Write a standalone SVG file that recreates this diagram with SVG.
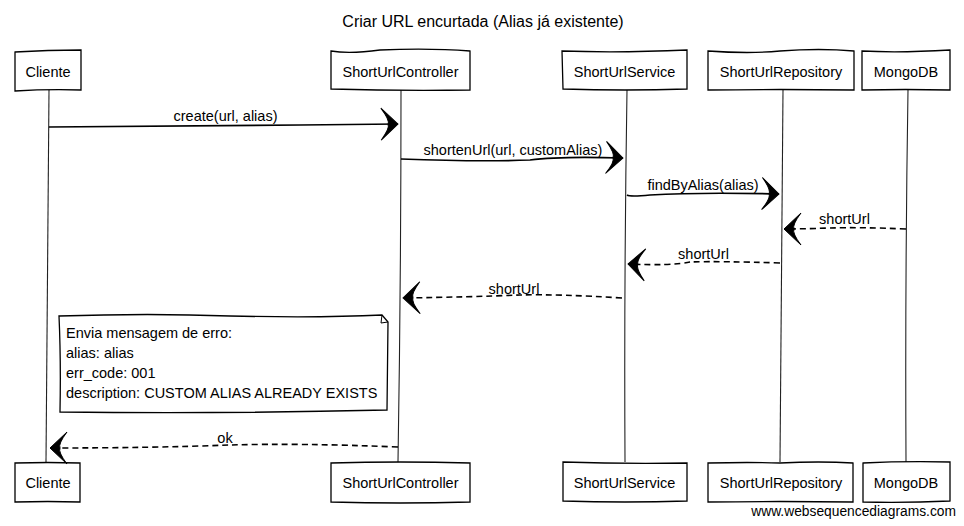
<svg xmlns="http://www.w3.org/2000/svg" width="964" height="526" viewBox="0 0 964 526">
<style>
  text { font-family: "Liberation Sans", Arial, sans-serif; fill: #000; }
  .title { font-size: 16px; text-anchor: middle; }
  .pt { font-size: 14.5px; text-anchor: middle; }
  .lbl { font-size: 14.5px; text-anchor: middle; }
  .note { font-size: 14.5px; }
  .wm { font-size: 13.8px; text-anchor: end; }
  .box { fill: #fff; stroke: #000; stroke-width: 1.3; }
  .life { fill: none; stroke: #222; stroke-width: 1.1; }
  .msg { fill: none; stroke: #000; stroke-width: 1.6; marker-end: url(#ah); }
  .ret { fill: none; stroke: #000; stroke-width: 1.6; stroke-dasharray: 6 4; marker-end: url(#ah); }
</style>
<defs>
  <marker id="ah" markerUnits="userSpaceOnUse" orient="auto" viewBox="-19 -18 21 36" refX="0" refY="0" markerWidth="21" markerHeight="36">
    <path d="M0,0 L-17,-16 Q-8,-4 -10,0 Q-8,4 -17,16 Z" fill="#000" stroke="#000" stroke-width="1"/>
  </marker>
</defs>
<rect width="964" height="526" fill="#fff"/>
<text class="title" x="483" y="27">Criar URL encurtada (Alias já existente)</text>

<g id="lifelines">
  <path class="life" d="M49,90 Q48,280 46,462"/>
  <path class="life" d="M401,90 Q401,280 398,462"/>
  <path class="life" d="M627,90 Q624,280 625,462"/>
  <path class="life" d="M783,90 Q782,280 780,462"/>
  <path class="life" d="M908,90 Q905,280 906,462"/>
</g>

<g id="p-cliente">
  <path class="box" d="M15,52 Q48,50 81,50 L81,90 Q48,89 15,91 Z"/>
  <text class="pt" x="48" y="77">Cliente</text>
</g>
<g id="p-controller">
  <path class="box" d="M331,51 Q350,54 380,50 Q430,48 470,51 L470,90 Q400,91 331,89 Z"/>
  <text class="pt" x="400.5" y="77">ShortUrlController</text>
</g>
<g id="p-service">
  <path class="box" d="M562,51 Q620,53 687,50 L687,89 Q625,91 563,89 Z"/>
  <text class="pt" x="624.5" y="77">ShortUrlService</text>
</g>
<g id="p-repository">
  <path class="box" d="M708,51 Q750,54 780,51 Q820,48 854,51 L854,90 Q780,89 708,90 Z"/>
  <text class="pt" x="781" y="77">ShortUrlRepository</text>
</g>
<g id="p-mongodb">
  <path class="box" d="M862,51 Q900,53 950,50 L950,90 Q905,89 862,90 Z"/>
  <text class="pt" x="906" y="77">MongoDB</text>
</g>

<g id="p-cliente-bottom">
  <path class="box" d="M15,463 Q48,462 80,463 L80,502 Q48,501 15,502 Z"/>
  <text class="pt" x="48" y="488">Cliente</text>
</g>
<g id="p-controller-bottom">
  <path class="box" d="M331,463 Q400,461 470,463 L470,502 Q400,504 331,502 Z"/>
  <text class="pt" x="400.5" y="488">ShortUrlController</text>
</g>
<g id="p-service-bottom">
  <path class="box" d="M563,462 Q625,464 687,463 L687,501 Q625,503 563,501 Z"/>
  <text class="pt" x="624.5" y="488">ShortUrlService</text>
</g>
<g id="p-repository-bottom">
  <path class="box" d="M708,463 Q750,462 780,463 Q820,461 853,463 L853,502 Q780,501 708,502 Z"/>
  <text class="pt" x="781" y="488">ShortUrlRepository</text>
</g>
<g id="p-mongodb-bottom">
  <path class="box" d="M863,463 Q905,461 950,462 L950,501 Q905,503 863,502 Z"/>
  <text class="pt" x="906" y="488">MongoDB</text>
</g>

<g id="note">
  <path class="box" d="M59,316 Q150,313 230,316 Q320,318 382,315 L388,322 L387,410 Q220,414 60,412 Q61,360 59,316 Z"/>
  <path d="M382,315 L381,323 L388,322" fill="none" stroke="#000" stroke-width="1"/>
  <text class="note" x="66" y="338">Envia mensagem de erro:</text>
  <text class="note" x="66" y="358">alias: alias</text>
  <text class="note" x="66" y="378">err_code: 001</text>
  <text class="note" x="66" y="398">description: CUSTOM ALIAS ALREADY EXISTS</text>
</g>

<g id="connectors">
  <path class="msg" d="M49,127 Q220,126 300,125 L398,124"/>
  <text class="lbl" x="225.5" y="121">create(url, alias)</text>

  <path class="msg" d="M401,159 Q480,162 530,160 Q560,156 623,158"/>
  <text class="lbl" x="513" y="155">shortenUrl(url, customAlias)</text>

  <path class="msg" d="M627,195 Q630,197 650,195 Q700,192 779,194"/>
  <text class="lbl" x="703" y="190">findByAlias(alias)</text>

  <path class="ret" d="M906,229 Q860,227 830,228 Q800,229 784,229"/>
  <text class="lbl" x="844.5" y="224">shortUrl</text>

  <path class="ret" d="M780,263 Q720,261 690,262 Q670,266 628,264"/>
  <text class="lbl" x="703.5" y="259">shortUrl</text>

  <path class="ret" d="M622,298 Q560,294 520,295 Q470,297 403,298"/>
  <text class="lbl" x="514" y="294">shortUrl</text>

  <path class="ret" d="M398,447 Q300,443 230,445 Q150,448 50,448"/>
  <text class="lbl" x="225" y="443">ok</text>
</g>

<text class="wm" x="956" y="516">www.websequencediagrams.com</text>
</svg>
